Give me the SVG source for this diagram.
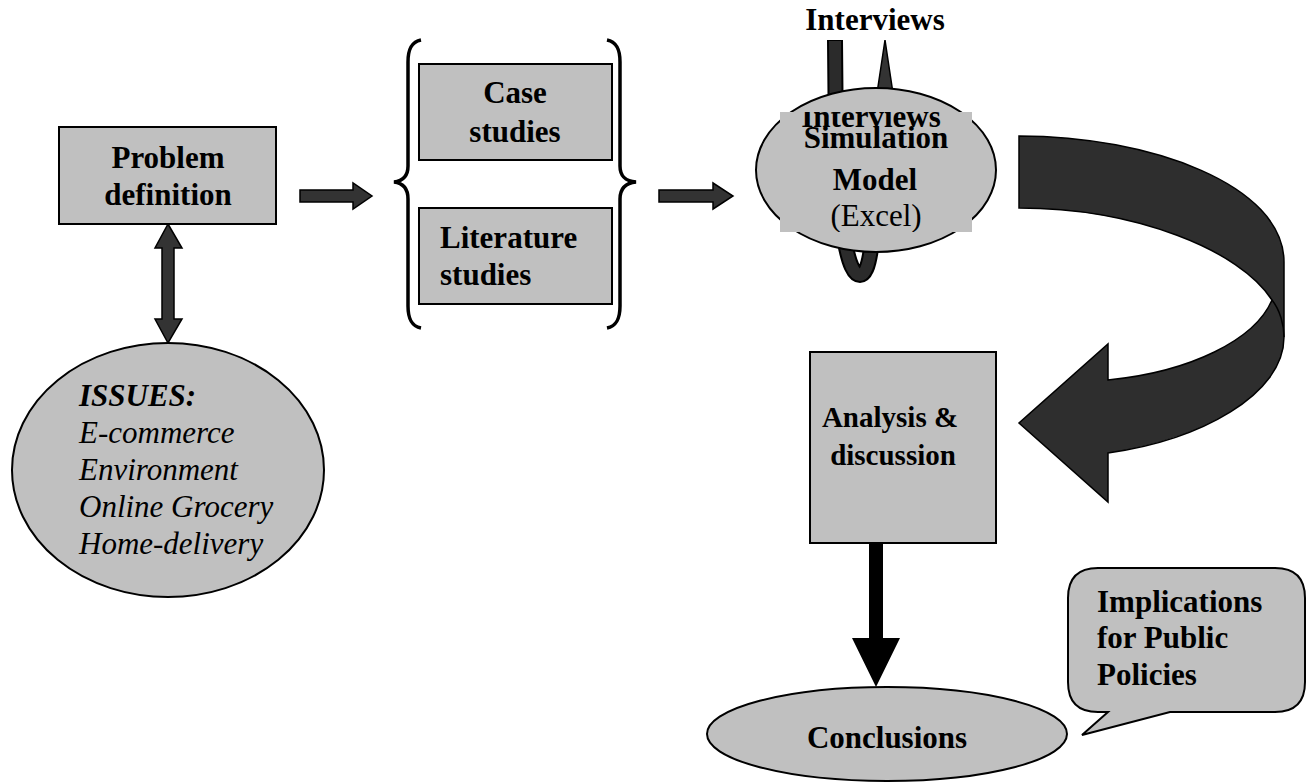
<svg xmlns="http://www.w3.org/2000/svg" width="1310" height="782" viewBox="0 0 1310 782">
<style>
.box{fill:#c0c0c0;stroke:#000;stroke-width:2}
.t{font-family:"Liberation Serif","Times New Roman",serif;font-size:31px;font-weight:bold;fill:#000}
.n{font-family:"Liberation Serif","Times New Roman",serif;font-size:31px;font-weight:normal;fill:#000}
.it{font-family:"Liberation Serif","Times New Roman",serif;font-size:31px;font-style:italic;fill:#000}
.dark{fill:#333;stroke:#000;stroke-width:1.5}
.brace{fill:none;stroke:#000;stroke-width:3.5}
</style>
<defs>
<clipPath id="simclip"><rect x="780" y="112" width="192" height="120"/></clipPath>
</defs>
<rect width="1310" height="782" fill="#fff"/>
<g id="connectors">
  <!-- interviews loop (behind ellipse) -->
  <path d="M835,40 L836,150 C840,230 848,275 860,275 C870,275 873,240 874,200 L880,110" fill="none" stroke="#000" stroke-width="16"/>
  <path d="M835,41 L836,150 C840,230 848,275 860,275 C870,275 873,240 874,200 L880,110" fill="none" stroke="#2b2b2b" stroke-width="12"/>
  <polygon points="885,40 897,120 873,120" class="dark"/>
  <!-- arrow problem -> studies -->
  <polygon points="300,190 353,190 353,183 372,196 353,209 353,202 300,202" class="dark"/>
  <!-- arrow studies -> simulation -->
  <polygon points="659,190 713,190 713,183 733,196 713,209 713,202 659,202" class="dark"/>
  <!-- double arrow problem <-> issues -->
  <polygon points="168,224 182,248 174,248 174,319 182,319 168,343 155,319 162,319 162,248 155,248" class="dark"/>
  <!-- big curved arrow simulation -> analysis -->
  <path d="M1019,136 C1150,136 1284,185 1284,262 L1284,337 C1284,395 1200,440 1108,453 L1108,502 L1019,423 L1108,344 L1108,380 C1190,372 1255,340 1272,300 C1240,250 1135,208 1019,208 Z" fill="#2e2e2e" stroke="#000" stroke-width="1.5"/>
  <path d="M1272,300 C1280,310 1284,325 1284,337" fill="none" stroke="#000" stroke-width="1.5"/>
  <!-- down arrow analysis -> conclusions -->
  <polygon points="869,543 883,543 883,638 900,638 876,687 852,638 869,638" fill="#000"/>
</g>
<g id="problem">
  <rect x="59" y="127" width="217" height="97" class="box"/>
  <text class="t" x="168" y="168" text-anchor="middle">Problem</text>
  <text class="t" x="168" y="205" text-anchor="middle">definition</text>
</g>
<g id="issues">
  <ellipse cx="168" cy="470" rx="156" ry="127" class="box"/>
  <text class="it" x="79" y="406" font-weight="bold">ISSUES:</text>
  <text class="it" x="79" y="443">E-commerce</text>
  <text class="it" x="79" y="480">Environment</text>
  <text class="it" x="79" y="517">Online Grocery</text>
  <text class="it" x="79" y="554">Home-delivery</text>
</g>
<g id="braces">
  <path class="brace" d="M421,40 C411,42 408,50 408,62 L408,166 C408,177 402,181 394,182 C402,183 408,188 408,199 L408,306 C408,318 411,326 421,328"/>
  <path class="brace" d="M607,40 C617,42 620,50 620,62 L620,166 C620,177 626,181 636,182 C626,183 620,188 620,199 L620,306 C620,318 617,326 607,328"/>
</g>
<g id="case">
  <rect x="419" y="64" width="193" height="96" class="box"/>
  <text class="t" x="515" y="103" text-anchor="middle">Case</text>
  <text class="t" x="515" y="142" text-anchor="middle">studies</text>
</g>
<g id="literature">
  <rect x="419" y="208" width="193" height="96" class="box"/>
  <text class="t" x="440" y="248">Literature</text>
  <text class="t" x="440" y="285">studies</text>
</g>
<g id="interviews-label">
  <text class="t" x="875" y="30" text-anchor="middle">Interviews</text>
</g>
<g id="simulation">
  <ellipse cx="876" cy="170" rx="120" ry="82" class="box"/>
  <rect x="780" y="112" width="192" height="120" fill="#c0c0c0"/>
  <g clip-path="url(#simclip)">
    <text class="t" x="871" y="127" text-anchor="middle">Interviews</text>
    <text class="t" x="876" y="148" text-anchor="middle">Simulation</text>
    <text class="t" x="875" y="190" text-anchor="middle">Model</text>
    <text class="n" x="876" y="226" text-anchor="middle">(Excel)</text>
  </g>
</g>
<g id="analysis">
  <rect x="810" y="352" width="186" height="191" class="box"/>
  <text class="t" x="890" y="427" text-anchor="middle" style="font-size:29px">Analysis &amp;</text>
  <text class="t" x="893" y="465" text-anchor="middle" style="font-size:29px">discussion</text>
</g>
<g id="conclusions">
  <ellipse cx="887" cy="734" rx="180" ry="47" class="box"/>
  <text class="t" x="887" y="748" text-anchor="middle">Conclusions</text>
</g>
<g id="implications">
  <path d="M1098,568 L1275,568 Q1305,568 1305,598 L1305,682 Q1305,712 1275,712 L1170,712 L1082,735 L1108,712 L1098,712 Q1068,712 1068,682 L1068,598 Q1068,568 1098,568 Z" class="box"/>
  <text class="t" x="1097" y="612">Implications</text>
  <text class="t" x="1097" y="648">for Public</text>
  <text class="t" x="1097" y="685">Policies</text>
</g>
</svg>
